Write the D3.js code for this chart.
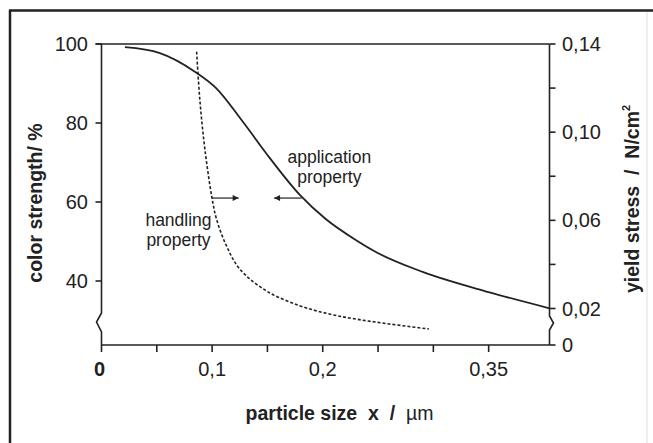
<!DOCTYPE html>
<html><head><meta charset="utf-8">
<script src="https://cdn.jsdelivr.net/npm/d3@7"></script>
<style>body{margin:0;background:#fff}svg{display:block}text{font-family:"Liberation Sans",Arial,sans-serif;fill:#222}</style>
</head><body>
<svg id="c" width="653" height="443"></svg>
<script>
// data
const xTicks = [0.05, 0.1, 0.15, 0.2, 0.25, 0.3, 0.35];
const xTickLabels = {0.1: "0,1", 0.2: "0,2", 0.35: "0,35"};
const leftTicks = [40, 60, 80, 100];
const rightTicks = [0.02, 0.04, 0.06, 0.08, 0.10, 0.12, 0.14];
const rightTickLabels = {0.02: "0,02", 0.06: "0,06", 0.10: "0,10", 0.14: "0,14"};
const colorX = [0.0212, 0.0528, 0.0844, 0.1034, 0.1278, 0.1522, 0.1793, 0.2027, 0.2298, 0.2497, 0.2903, 0.3499, 0.405];
const colorStrength = [99.2, 97.7, 93.0, 88.9, 80.3, 71.1, 61.8, 55.7, 50.4, 47.1, 42.3, 37.2, 33.1];
const yieldX = [0.086, 0.0889, 0.0935, 0.0998, 0.104, 0.113, 0.125, 0.149, 0.179, 0.206, 0.230, 0.260, 0.296];
const yieldStress = [0.1365, 0.1147, 0.0921, 0.0704, 0.0605, 0.0484, 0.0379, 0.028, 0.0213, 0.0175, 0.0152, 0.013, 0.0107];

const svg = d3.select("#c");
const ink = "#222";
const L = 101.5, R = 549.5, T = 44, B = 345;
const x = d3.scaleLinear().domain([0, 0.405]).range([L, R]);
const yL = d3.scaleLinear().domain([40, 100]).range([281, T]);
const yR = d3.scaleLinear().domain([0.02, 0.14]).range([308.5, T]);

// outer frame
svg.append("line").attr("x1", 10).attr("x2", 10).attr("y1", 10).attr("y2", 443).attr("stroke", ink).attr("stroke-width", 2.5);
svg.append("line").attr("x1", 9).attr("x2", 653).attr("y1", 10.5).attr("y2", 10.5).attr("stroke", ink).attr("stroke-width", 2.5);
svg.append("line").attr("x1", 647).attr("x2", 647).attr("y1", 12).attr("y2", 443).attr("stroke", "#ddd").attr("stroke-width", 1);

const g = svg.append("g").attr("stroke", ink).attr("stroke-width", 1.6).attr("fill", "none");
// top line
g.append("line").attr("x1", L - 6).attr("x2", R).attr("y1", T).attr("y2", T);
// bottom axis
g.append("line").attr("x1", L).attr("x2", R).attr("y1", B).attr("y2", B);
xTicks.forEach(t => g.append("line").attr("x1", x(t)).attr("x2", x(t)).attr("y1", B).attr("y2", B + 7));
g.append("line").attr("x1", L).attr("x2", L).attr("y1", B).attr("y2", B + 7);
// left axis with break
g.append("path").attr("d", `M${L},${T}V313L${L-5},322L${L},332V${B}`);
leftTicks.forEach(t => g.append("line").attr("x1", L - 6).attr("x2", L).attr("y1", yL(t)).attr("y2", yL(t)));
// right axis with break
g.append("path").attr("d", `M${R},${T}V316L${R+4},323L${R},330V${B}`);
rightTicks.forEach(t => g.append("line").attr("x1", R).attr("x2", R + 6).attr("y1", yR(t)).attr("y2", yR(t)));
g.append("line").attr("x1", R).attr("x2", R + 6).attr("y1", B).attr("y2", B);

// curves
const lineC = d3.line().x((d, i) => x(colorX[i])).y(d => yL(d)).curve(d3.curveMonotoneX);
g.append("path").attr("d", lineC(colorStrength)).attr("stroke-width", 1.8);
const lineY = d3.line().x((d, i) => x(yieldX[i])).y(d => yR(d)).curve(d3.curveCatmullRom.alpha(0.5));
g.append("path").attr("d", lineY(yieldStress)).attr("stroke-width", 1.6).attr("stroke-dasharray", "3,2");

// arrows
const defs = svg.append("defs");
defs.append("marker").attr("id", "ah").attr("viewBox", "0 0 10 10").attr("refX", 10).attr("refY", 5)
  .attr("markerWidth", 8).attr("markerHeight", 6).attr("markerUnits", "userSpaceOnUse").attr("orient", "auto")
  .append("path").attr("d", "M0,0L10,5L0,10Z").attr("fill", ink);
g.append("line").attr("x1", x(0.0998)).attr("x2", x(0.124)).attr("y1", yL(61)).attr("y2", yL(61)).attr("stroke-width", 1.2).attr("marker-end", "url(#ah)");
g.append("line").attr("x1", x(0.181)).attr("x2", x(0.156)).attr("y1", yL(61)).attr("y2", yL(61)).attr("stroke-width", 1.2).attr("marker-end", "url(#ah)");

// tick labels
const fs = 20;
leftTicks.forEach(t => svg.append("text").attr("x", 88).attr("y", yL(t) + 7).attr("text-anchor", "end").attr("font-size", fs).text(t));
rightTicks.filter(t => rightTickLabels[t]).forEach(t => svg.append("text").attr("x", 562).attr("y", yR(t) + 7).attr("font-size", fs).text(rightTickLabels[t]));
svg.append("text").attr("x", 562).attr("y", B + 7).attr("font-size", fs).text("0");
xTicks.filter(t => xTickLabels[t]).forEach(t => svg.append("text").attr("x", x(t)).attr("y", 376).attr("text-anchor", "middle").attr("font-size", fs).text(xTickLabels[t]));
svg.append("text").attr("x", L - 2).attr("y", 376).attr("text-anchor", "middle").attr("font-size", fs).attr("font-weight", "bold").text("0");

// annotations
const af = 17.5;
svg.append("text").attr("x", x(0.206)).attr("y", 163).attr("text-anchor", "middle").attr("font-size", af).text("application");
svg.append("text").attr("x", x(0.206)).attr("y", 183).attr("text-anchor", "middle").attr("font-size", af).text("property");
svg.append("text").attr("x", 178.5).attr("y", 226).attr("text-anchor", "middle").attr("font-size", af).text("handling");
svg.append("text").attr("x", 178.5).attr("y", 246).attr("text-anchor", "middle").attr("font-size", af).text("property");

// axis titles
svg.append("text").attr("transform", "translate(42,203) rotate(-90)").attr("text-anchor", "middle").attr("font-size", 19.5).attr("font-weight", "bold").text("color strength/ %");
const rt = svg.append("text").attr("transform", "translate(639,199) rotate(-90)").attr("text-anchor", "middle").attr("font-size", 19.5).attr("font-weight", "bold").attr("xml:space", "preserve");
rt.append("tspan").text("yield stress  /  N/cm");
rt.append("tspan").attr("font-size", 11).attr("dy", -9).text("2");
const bt = svg.append("text").attr("x", 339.5).attr("y", 420).attr("text-anchor", "middle").attr("font-size", 19.5).attr("font-weight", "bold").attr("xml:space", "preserve");
bt.append("tspan").text("particle size  x  /  ");
bt.append("tspan").attr("font-weight", "normal").text("µm");
</script>
</body></html>
